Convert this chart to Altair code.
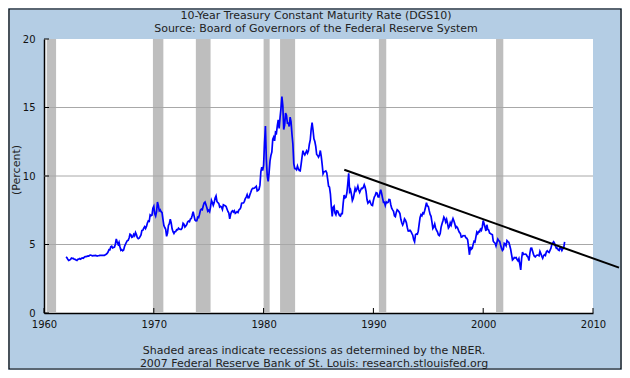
import altair as alt
import pandas as pd

# ---- data -------------------------------------------------------------
start_year = 1962
dgs10_monthly = [
    # 1962
    4.08, 4.04, 3.93, 3.84, 3.87, 3.91, 4.01, 3.98, 3.98, 3.93, 3.92, 3.86,
    # 1963
    3.83, 3.92, 3.93, 3.97, 3.93, 3.99, 4.02, 4.00, 4.08, 4.11, 4.12, 4.13,
    # 1964
    4.17, 4.15, 4.22, 4.23, 4.20, 4.17, 4.19, 4.19, 4.20, 4.19, 4.15, 4.18,
    # 1965
    4.19, 4.21, 4.21, 4.20, 4.21, 4.21, 4.20, 4.25, 4.29, 4.35, 4.45, 4.62,
    # 1966
    4.61, 4.83, 4.87, 4.75, 4.78, 4.81, 5.02, 5.40, 5.18, 5.01, 5.16, 4.84,
    # 1967
    4.58, 4.63, 4.54, 4.59, 4.85, 5.02, 5.16, 5.28, 5.30, 5.48, 5.75, 5.70,
    # 1968
    5.53, 5.56, 5.74, 5.64, 5.87, 5.72, 5.50, 5.42, 5.46, 5.58, 5.70, 6.03,
    # 1969
    6.04, 6.19, 6.30, 6.17, 6.32, 6.57, 6.72, 6.69, 7.16, 7.10, 7.14, 7.65,
    # 1970
    7.79, 7.24, 7.07, 7.39, 8.10, 7.84, 7.46, 7.53, 7.39, 7.33, 6.84, 6.39,
    # 1971
    6.24, 6.11, 5.60, 5.83, 6.39, 6.52, 6.85, 6.58, 6.14, 5.93, 5.81, 5.93,
    # 1972
    5.95, 6.08, 6.07, 6.19, 6.13, 6.11, 6.11, 6.21, 6.55, 6.48, 6.28, 6.36,
    # 1973
    6.46, 6.64, 6.71, 6.67, 6.85, 6.90, 7.13, 7.40, 7.09, 6.79, 6.73, 6.74,
    # 1974
    6.99, 6.96, 7.21, 7.51, 7.58, 7.54, 7.81, 8.04, 8.10, 7.90, 7.68, 7.43,
    # 1975
    7.50, 7.39, 7.73, 8.23, 8.06, 7.86, 8.06, 8.40, 8.55, 8.14, 8.05, 8.00,
    # 1976
    7.74, 7.79, 7.73, 7.56, 7.90, 7.86, 7.83, 7.77, 7.59, 7.41, 7.29, 6.87,
    # 1977
    7.21, 7.39, 7.46, 7.37, 7.46, 7.28, 7.33, 7.40, 7.34, 7.52, 7.58, 7.69,
    # 1978
    8.01, 8.03, 8.04, 8.15, 8.35, 8.46, 8.64, 8.41, 8.42, 8.64, 8.81, 9.01,
    # 1979
    9.10, 9.10, 9.12, 9.18, 9.25, 8.91, 8.95, 9.03, 9.33, 10.30, 10.65, 10.39,
    # 1980
    10.80, 12.41, 13.65, 11.20, 10.00, 9.60, 10.25, 11.10, 11.51, 11.75, 12.68, 12.84,
    # 1981
    12.57, 13.19, 13.12, 13.68, 14.10, 13.47, 14.28, 14.94, 15.80, 15.15, 13.39, 13.72,
    # 1982
    14.59, 14.43, 13.86, 13.87, 13.62, 14.30, 13.95, 13.06, 12.34, 10.91, 10.55, 10.54,
    # 1983
    10.46, 10.72, 10.51, 10.40, 10.38, 10.85, 11.38, 11.85, 11.65, 11.54, 11.69, 11.83,
    # 1984
    11.67, 11.84, 12.32, 12.63, 13.41, 13.90, 13.36, 12.72, 12.52, 12.16, 11.57, 11.50,
    # 1985
    11.38, 11.51, 11.86, 11.43, 10.85, 10.16, 10.31, 10.33, 10.37, 10.24, 9.78, 9.26,
    # 1986
    9.19, 8.70, 7.78, 7.05, 7.71, 7.80, 7.30, 7.17, 7.45, 7.43, 7.25, 7.11,
    # 1987
    7.08, 7.25, 7.25, 8.02, 8.61, 8.40, 8.45, 8.76, 9.42, 10.20, 8.86, 8.99,
    # 1988
    8.67, 8.21, 8.37, 8.72, 9.09, 8.92, 9.06, 9.26, 8.98, 8.80, 8.96, 9.11,
    # 1989
    9.09, 9.17, 9.36, 9.18, 8.86, 8.28, 8.02, 8.11, 8.19, 8.01, 7.87, 7.84,
    # 1990
    8.21, 8.47, 8.59, 8.79, 8.76, 8.48, 8.47, 8.75, 9.00, 8.72, 8.39, 8.08,
    # 1991
    8.09, 7.85, 8.11, 8.04, 8.07, 8.28, 8.27, 7.90, 7.65, 7.53, 7.42, 7.09,
    # 1992
    7.03, 7.34, 7.54, 7.48, 7.39, 7.26, 6.84, 6.59, 6.42, 6.59, 6.87, 6.77,
    # 1993
    6.60, 6.26, 5.98, 5.97, 6.04, 5.96, 5.81, 5.68, 5.36, 5.20, 5.72, 5.77,
    # 1994
    5.75, 5.97, 6.48, 6.97, 7.18, 7.10, 7.30, 7.24, 7.46, 7.74, 8.05, 7.81,
    # 1995
    7.78, 7.47, 7.20, 7.06, 6.63, 6.17, 6.28, 6.49, 6.20, 6.04, 5.93, 5.71,
    # 1996
    5.65, 5.81, 6.27, 6.51, 6.74, 7.00, 6.87, 6.64, 6.83, 6.53, 6.20, 6.30,
    # 1997
    6.58, 6.42, 6.69, 6.89, 6.71, 6.49, 6.22, 6.30, 6.21, 6.03, 5.88, 5.81,
    # 1998
    5.54, 5.57, 5.65, 5.64, 5.65, 5.50, 5.46, 5.34, 4.81, 4.25, 4.83, 4.65,
    # 1999
    4.72, 5.00, 5.23, 5.18, 5.54, 5.90, 5.79, 5.94, 5.92, 6.11, 6.03, 6.28,
    # 2000
    6.75, 6.52, 6.26, 5.99, 6.44, 6.10, 6.05, 5.83, 5.80, 5.74, 5.72, 5.24,
    # 2001
    5.16, 5.10, 4.89, 5.14, 5.39, 5.28, 5.24, 4.97, 4.73, 4.57, 4.65, 5.09,
    # 2002
    5.04, 4.91, 5.28, 5.21, 5.16, 4.93, 4.65, 4.26, 3.87, 3.94, 4.05, 4.03,
    # 2003
    4.05, 3.90, 3.81, 3.96, 3.57, 3.15, 3.98, 4.45, 4.27, 4.29, 4.30, 4.27,
    # 2004
    4.15, 4.08, 3.83, 4.35, 4.72, 4.73, 4.50, 4.28, 4.13, 4.10, 4.19, 4.23,
    # 2005
    4.22, 4.17, 4.50, 4.34, 4.14, 4.00, 4.18, 4.26, 4.20, 4.46, 4.54, 4.47,
    # 2006
    4.42, 4.57, 4.72, 4.99, 5.11, 5.20, 5.09, 4.88, 4.72, 4.73, 4.60, 4.56,
    # 2007
    4.76, 4.72, 4.56, 4.69, 4.75, 5.20,
]

recession_start = [1960.25, 1969.92, 1973.83, 1980.00, 1981.50, 1990.50, 2001.17]
recession_end = [1961.10, 1970.87, 1975.17, 1980.55, 1982.87, 1991.17, 2001.83]

trend_year = [1987.35, 2012.37]
trend_value = [10.46, 3.31]

y_ticks = [0, 5, 10, 15, 20]
grid_values = [5, 10, 15]
x_ticks = [1960, 1970, 1980, 1990, 2000, 2010]

title_lines = ["10-Year Treasury Constant Maturity Rate (DGS10)",
               "Source: Board of Governors of the Federal Reserve System"]
note_lines = ["Shaded areas indicate recessions as determined by the NBER.",
              "2007 Federal Reserve Bank of St. Louis: research.stlouisfed.org"]
y_title = "(Percent)"

# ---- tables -------------------------------------------------------------
series = pd.DataFrame({
    "year": [start_year + i / 12 for i in range(len(dgs10_monthly))],
    "rate": dgs10_monthly,
})
rec = pd.DataFrame({"start": recession_start, "end": recession_end})
trend = pd.DataFrame({"year": trend_year, "rate": trend_value})

W, H = 549, 274
FONT = "DejaVu Sans"

xs = alt.Scale(domain=[1960, 2010], nice=False, zero=False)
ys = alt.Scale(domain=[0, 20], nice=False)

x_axis = alt.Axis(values=x_ticks, format="d", title=None, grid=False,
                  ticks=False, tickSize=0, domainColor="black", domainWidth=1.5,
                  labelFont=FONT, labelFontSize=10, labelColor="#111111",
                  labelPadding=6, labelFlush=False, labelOverlap=False)
y_axis = alt.Axis(values=y_ticks, title=None, grid=False, ticks=False,
                  tickSize=0, domainColor="black", domainWidth=1.5,
                  labelFont=FONT, labelFontSize=10, labelColor="#111111",
                  labelPadding=9, labelFlush=False, labelOverlap=False)

rects = alt.Chart(rec).mark_rect(color="#BEBEBE").encode(
    x=alt.X("start:Q", scale=xs, axis=x_axis),
    x2="end:Q",
    y=alt.value(0), y2=alt.value(H),
)

grid = alt.Chart(pd.DataFrame({"v": grid_values})).mark_rule(
    color="#A8A8A8", strokeWidth=1
).encode(y=alt.Y("v:Q", scale=ys, axis=y_axis), x=alt.value(0), x2=alt.value(W))

line = alt.Chart(series).mark_line(color="#0000FF", strokeWidth=1.7).encode(
    x=alt.X("year:Q", scale=xs, axis=x_axis),
    y=alt.Y("rate:Q", scale=ys, axis=y_axis),
)

trend_line = alt.Chart(trend).mark_line(color="black", strokeWidth=2, clip=False).encode(
    x=alt.X("year:Q", scale=xs, axis=x_axis), y=alt.Y("rate:Q", scale=ys, axis=y_axis)
)

ytick = alt.Chart(pd.DataFrame({"v": y_ticks})).mark_rule(color="black").encode(
    y=alt.Y("v:Q", scale=ys, axis=y_axis), x=alt.value(0), x2=alt.value(5)
)
xtick = alt.Chart(pd.DataFrame({"v": x_ticks})).mark_rule(color="black").encode(
    x=alt.X("v:Q", scale=xs, axis=x_axis), y=alt.value(H), y2=alt.value(H - 5)
)

def txt(s, x, y, angle=0):
    return alt.Chart(pd.DataFrame({"t": [s]})).mark_text(
        font=FONT, fontSize=11, color="#222222", align="center",
        baseline="middle", angle=angle
    ).encode(text="t:N", x=alt.value(x), y=alt.value(y))

texts = [
    txt(title_lines[0], 272, -23),
    txt(title_lines[1], 272, -10),
    txt(note_lines[0], 270, 312),
    txt(note_lines[1], 270, 325),
    txt(y_title, -27, 131, angle=270),
]

frame = alt.Chart(pd.DataFrame({"a": [0]})).mark_rect(
    fill="transparent", stroke="black", strokeWidth=1.2
).encode(x=alt.value(-35), y=alt.value(-30), x2=alt.value(W + 28), y2=alt.value(H + 56))

chart = alt.layer(rects, grid, line, trend_line, ytick, xtick, *texts, frame).properties(
    width=W, height=H,
    background="#B4CDE4",
    padding={"left": 36, "top": 31, "right": 29, "bottom": 57},
    autosize=alt.AutoSizeParams(type="none"),
).configure_view(stroke=None, fill="white")

chart.save("out.html", embed_options={"renderer": "svg", "actions": False})
